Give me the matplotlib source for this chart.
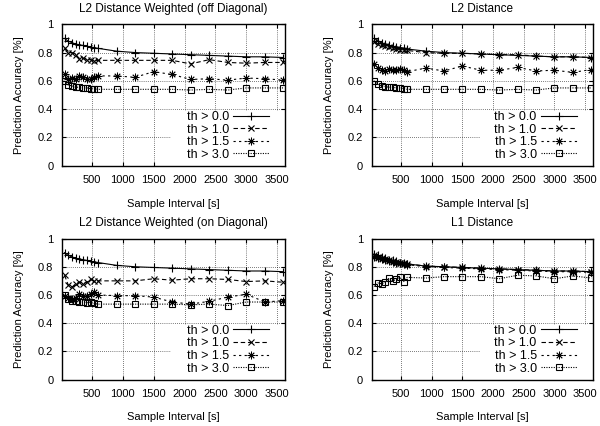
import matplotlib
matplotlib.use('Agg')
import matplotlib.pyplot as plt
from matplotlib.patches import Rectangle

plt.rcParams['font.family'] = ['Liberation Sans', 'DejaVu Sans']
plt.rcParams['font.size'] = 8

# sample intervals [s]
intervals = [60, 120, 180, 240, 300, 360, 420, 480, 540, 600,
             900, 1200, 1500, 1800, 2100, 2400, 2700, 3000, 3300, 3600]

labels = ['th > 0.0', 'th > 1.0', 'th > 1.5', 'th > 3.0']

# L2 Distance Weighted (off Diagonal)
off_th00 = [0.90, 0.88, 0.87, 0.86, 0.855, 0.85, 0.845, 0.84, 0.835, 0.83,
            0.81, 0.80, 0.795, 0.79, 0.785, 0.78, 0.775, 0.77, 0.77, 0.765]
off_th10 = [0.83, 0.80, 0.80, 0.78, 0.755, 0.76, 0.75, 0.75, 0.74, 0.745,
            0.745, 0.745, 0.745, 0.745, 0.72, 0.75, 0.73, 0.725, 0.73, 0.73]
off_th15 = [0.65, 0.61, 0.62, 0.61, 0.635, 0.625, 0.61, 0.615, 0.63, 0.635,
            0.635, 0.625, 0.665, 0.645, 0.61, 0.615, 0.605, 0.62, 0.615, 0.605]
off_th30 = [0.60, 0.57, 0.565, 0.555, 0.555, 0.55, 0.55, 0.545, 0.545, 0.54,
            0.54, 0.54, 0.54, 0.54, 0.535, 0.54, 0.535, 0.55, 0.55, 0.55]

# L2 Distance
l2_th00 = [0.90, 0.885, 0.87, 0.86, 0.85, 0.845, 0.84, 0.835, 0.83, 0.825,
           0.81, 0.80, 0.795, 0.79, 0.785, 0.78, 0.775, 0.77, 0.77, 0.765]
l2_th10 = [0.875, 0.86, 0.85, 0.845, 0.84, 0.83, 0.825, 0.82, 0.82, 0.815,
           0.80, 0.795, 0.795, 0.79, 0.785, 0.785, 0.775, 0.77, 0.77, 0.765]
l2_th15 = [0.72, 0.69, 0.675, 0.67, 0.685, 0.675, 0.68, 0.685, 0.675, 0.665,
           0.69, 0.67, 0.705, 0.675, 0.675, 0.695, 0.67, 0.675, 0.66, 0.68]
l2_th30 = [0.60, 0.575, 0.565, 0.56, 0.555, 0.555, 0.55, 0.55, 0.545, 0.54,
           0.54, 0.54, 0.54, 0.54, 0.535, 0.54, 0.535, 0.55, 0.55, 0.55]

# L2 Distance Weighted (on Diagonal)
on_th00 = [0.90, 0.88, 0.87, 0.86, 0.855, 0.85, 0.845, 0.84, 0.835, 0.83,
           0.81, 0.80, 0.795, 0.79, 0.785, 0.78, 0.775, 0.77, 0.77, 0.765]
on_th10 = [0.74, 0.67, 0.655, 0.68, 0.69, 0.68, 0.69, 0.71, 0.70, 0.70,
           0.70, 0.70, 0.715, 0.705, 0.715, 0.715, 0.71, 0.695, 0.70, 0.69]
on_th15 = [0.59, 0.575, 0.57, 0.58, 0.61, 0.595, 0.59, 0.61, 0.62, 0.60,
           0.595, 0.595, 0.585, 0.55, 0.535, 0.555, 0.585, 0.605, 0.55, 0.56]
on_th30 = [0.60, 0.57, 0.56, 0.555, 0.55, 0.55, 0.545, 0.55, 0.54, 0.535,
           0.535, 0.535, 0.535, 0.535, 0.53, 0.535, 0.525, 0.55, 0.55, 0.55]

# L1 Distance
l1_th00 = [0.89, 0.88, 0.87, 0.86, 0.85, 0.845, 0.84, 0.83, 0.825, 0.82,
           0.805, 0.80, 0.795, 0.79, 0.785, 0.78, 0.775, 0.77, 0.77, 0.765]
l1_th10 = [0.88, 0.87, 0.86, 0.855, 0.845, 0.84, 0.835, 0.83, 0.825, 0.82,
           0.805, 0.80, 0.795, 0.79, 0.785, 0.78, 0.775, 0.77, 0.77, 0.765]
l1_th15 = [0.87, 0.865, 0.855, 0.85, 0.84, 0.835, 0.83, 0.825, 0.82, 0.815,
           0.80, 0.795, 0.79, 0.785, 0.78, 0.775, 0.77, 0.765, 0.765, 0.76]
l1_th30 = [0.66, 0.685, 0.68, 0.69, 0.72, 0.70, 0.71, 0.725, 0.695, 0.725,
           0.72, 0.73, 0.73, 0.73, 0.715, 0.74, 0.735, 0.715, 0.735, 0.72]

panels = [
    ('L2 Distance Weighted (off Diagonal)', [off_th00, off_th10, off_th15, off_th30]),
    ('L2 Distance', [l2_th00, l2_th10, l2_th15, l2_th30]),
    ('L2 Distance Weighted (on Diagonal)', [on_th00, on_th10, on_th15, on_th30]),
    ('L1 Distance', [l1_th00, l1_th10, l1_th15, l1_th30]),
]

# axes rectangles in figure fractions
rects = [
    (0.104, 0.611, 0.371, 0.332),
    (0.620, 0.611, 0.368, 0.332),
    (0.104, 0.109, 0.371, 0.331),
    (0.620, 0.109, 0.368, 0.331),
]

styles = [
    dict(linestyle='-', marker='+', markersize=5.5, markeredgewidth=0.8),
    dict(linestyle=(0, (4, 2.5)), marker='x', markersize=4.5, markeredgewidth=0.8),
    dict(linestyle=(0, (2, 3)), marker=(8, 2, 0), markersize=5.5, markeredgewidth=0.6),
    dict(linestyle=(0, (1, 1.2)), marker='s', markersize=5, markeredgewidth=0.8),
]

fig = plt.figure(figsize=(6, 4.26), dpi=100)

for (title, series), rect in zip(panels, rects):
    ax = fig.add_axes(rect)
    for vals, lab, st in zip(series, labels, styles):
        ax.plot(intervals, vals, color='black', linewidth=0.8,
                markerfacecolor='none', label=lab, zorder=2, **st)
    ax.set_xlim(25, 3625)
    ax.set_ylim(0, 1)
    ax.set_xticks([500, 1000, 1500, 2000, 2500, 3000, 3500])
    ax.set_yticks([0, 0.2, 0.4, 0.6, 0.8, 1.0])
    ax.set_yticklabels(['0', '0.2', '0.4', '0.6', '0.8', '1'])
    ax.tick_params(direction='in', top=True, right=True, length=3, width=0.8, pad=6.5)
    ax.grid(True, linestyle=(0, (1, 2)), color='black', linewidth=0.5)
    for s in ax.spines.values():
        s.set_linewidth(1.0)
        s.set_zorder(3)
    # key area hides the grid, like the gnuplot key box
    ax.add_patch(Rectangle((0.49, 0.0), 0.51, 0.39, transform=ax.transAxes,
                           facecolor='white', edgecolor='none', zorder=1.6))
    ax.set_title(title, fontsize=8.5, pad=9)
    ax.set_xlabel('Sample Interval [s]', fontsize=8, labelpad=10)
    ax.set_ylabel('Prediction Accuracy [%]', fontsize=8, labelpad=10)
    leg = ax.legend(loc='lower right', bbox_to_anchor=(0.93, 0.035),
                    markerfirst=False, frameon=False, numpoints=1,
                    handlelength=2.9, handletextpad=0.35,
                    labelspacing=0.05, borderpad=0, borderaxespad=0,
                    fontsize=9)
    for t in leg.get_texts():
        t.set_ha('right')

fig.savefig('out.png', dpi=100)
